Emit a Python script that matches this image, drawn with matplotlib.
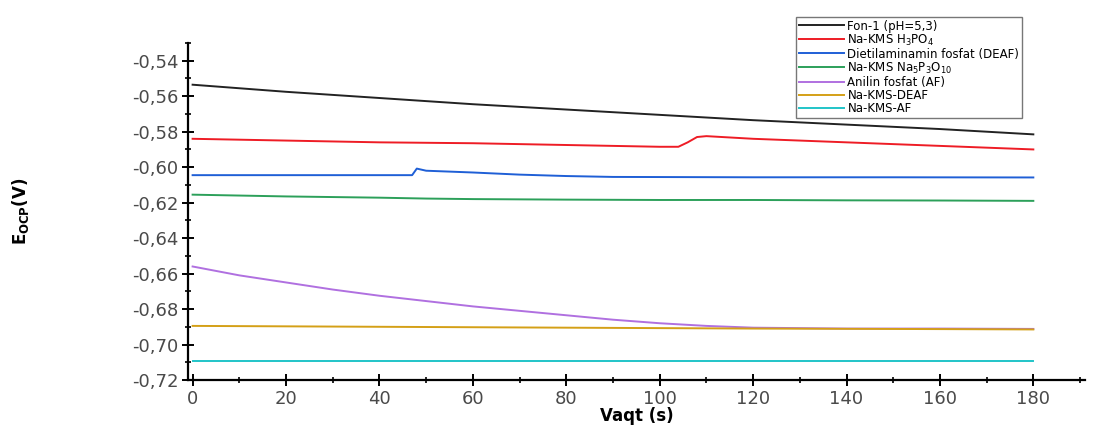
import matplotlib.pyplot as plt
from matplotlib.ticker import MultipleLocator, FuncFormatter

plt.rcParams['font.family'] = ['DejaVu Sans']

# Fon-1 (pH=5,3)
t_fon = [0, 20, 40, 60, 80, 100, 120, 140, 160, 180]
e_fon = [-0.5535, -0.5575, -0.561, -0.5645, -0.5675, -0.5705, -0.5735, -0.576, -0.5785, -0.5815]

# Na-KMS H3PO4
t_h3po4 = [0, 20, 40, 60, 80, 100, 104, 106, 108, 110, 120, 140, 160, 180]
e_h3po4 = [-0.584, -0.585, -0.586, -0.5865, -0.5875, -0.5885, -0.5885, -0.586, -0.583, -0.5825, -0.584, -0.586, -0.588, -0.590]

# Dietilaminamin fosfat (DEAF)
t_deaf = [0, 20, 40, 47, 48, 50, 60, 70, 80, 90, 120, 150, 180]
e_deaf = [-0.6045, -0.6045, -0.6045, -0.6045, -0.6008, -0.602, -0.603, -0.6042, -0.605, -0.6055, -0.6057, -0.6057, -0.6058]

# Na-KMS Na5P3O10
t_na5 = [0, 20, 40, 50, 60, 80, 100, 120, 140, 160, 180]
e_na5 = [-0.6155, -0.6165, -0.6172, -0.6177, -0.618, -0.6183, -0.6185, -0.6185, -0.6187, -0.6188, -0.619]

# Anilin fosfat (AF)
t_af = [0, 10, 20, 30, 40, 50, 60, 70, 80, 90, 100, 110, 120, 140, 160, 180]
e_af = [-0.656, -0.661, -0.665, -0.669, -0.6725, -0.6755, -0.6785, -0.681, -0.6835, -0.686, -0.688, -0.6895, -0.6905, -0.691, -0.691, -0.6912]

# Na-KMS-DEAF
t_ndeaf = [0, 40, 80, 120, 160, 180]
e_ndeaf = [-0.6895, -0.690, -0.6905, -0.691, -0.6913, -0.6915]

# Na-KMS-AF
t_naf = [0, 60, 120, 180]
e_naf = [-0.7095, -0.7095, -0.7095, -0.7095]

series = [
    (t_fon, e_fon, 'Fon-1 (pH=5,3)', '#222222'),
    (t_h3po4, e_h3po4, 'Na-KMS H$_3$PO$_4$', '#ee1c25'),
    (t_deaf, e_deaf, 'Dietilaminamin fosfat (DEAF)', '#1f5fd6'),
    (t_na5, e_na5, 'Na-KMS Na$_5$P$_3$O$_{10}$', '#2ca05a'),
    (t_af, e_af, 'Anilin fosfat (AF)', '#b070e0'),
    (t_ndeaf, e_ndeaf, 'Na-KMS-DEAF', '#d4a017'),
    (t_naf, e_naf, 'Na-KMS-AF', '#20c4c8'),
]

fig = plt.figure(figsize=(10.99, 4.26), dpi=100)
ax = fig.add_axes([0.171, 0.108, 0.816, 0.791])

for t, e, lab, col in series:
    ax.plot(t, e, color=col, lw=1.4, label=lab)

ax.set_xlim(-1, 191)
ax.set_ylim(-0.72, -0.530)
ax.xaxis.set_major_locator(MultipleLocator(20))
ax.xaxis.set_minor_locator(MultipleLocator(10))
ax.yaxis.set_major_locator(MultipleLocator(0.02))
ax.yaxis.set_minor_locator(MultipleLocator(0.01))
ax.yaxis.set_major_formatter(FuncFormatter(lambda v, p: f'{v:.2f}'.replace('.', ',')))

for s in ['top', 'right']:
    ax.spines[s].set_visible(False)
for s in ['left', 'bottom']:
    ax.spines[s].set_linewidth(1.6)
ax.tick_params(which='major', direction='inout', length=8, width=1.4, labelsize=13,
               labelcolor='#4a4a4a', pad=3)
ax.tick_params(which='minor', direction='inout', length=5, width=1.2)

ax.set_xlabel('Vaqt (s)', fontsize=12, fontweight='bold')
ax.xaxis.set_label_coords(0.5, -0.08)
ax.set_ylabel('E$_{\\mathbf{OCP}}$(V)', fontsize=12, fontweight='bold')
ax.yaxis.set_label_coords(-0.175, 0.5)

leg = fig.legend(loc='upper left', bbox_to_anchor=(0.719, 0.975), fontsize=8.5,
                 frameon=True, fancybox=False, edgecolor='#555555', handlelength=3.8,
                 handletextpad=0.3, labelspacing=0.0, borderpad=0.25)
leg.get_frame().set_linewidth(1.0)

fig.savefig('out.png', dpi=100)
